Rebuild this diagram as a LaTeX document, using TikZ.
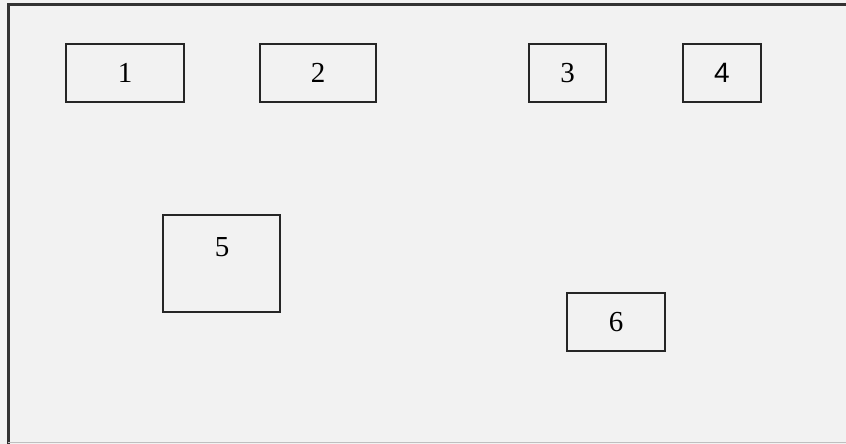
\documentclass[tikz,border=0pt]{standalone}
\usepackage{fontspec}
\setmainfont{Liberation Serif}
\newfontfamily\arialfont{Liberation Sans}
\begin{document}
\begin{tikzpicture}[x=1pt,y=-1pt,
  box/.style={draw=black!85,line width=2pt,fill=none,inner sep=0pt,font=\fontsize{29}{29}\selectfont},
]
\useasboundingbox (0,0) rectangle (846,444);
\fill[black!5] (0,0) rectangle (846,444);
\draw[black!80,line width=3pt] (849,5) -- (8,5) -- (8,449);
\draw[black!25,line width=1pt] (8,442) -- (849,442);
\node[box,minimum width=118pt,minimum height=58pt] (b1) at (125,73) {1};
\node[box,minimum width=116pt,minimum height=58pt] (b2) at (318,73) {2};
\node[box,minimum width=77pt,minimum height=58pt] (b3) at (567.5,73) {3};
\node[box,minimum width=78pt,minimum height=58pt,font=\arialfont\fontsize{28}{28}\selectfont] (b4) at (722,73) {4};
\node[box,minimum width=117pt,minimum height=97pt] (b5) at (221.5,263.5) {};
\node[font=\fontsize{29}{29}\selectfont,inner sep=0pt] (t5) at (222,247) {5};
\node[box,minimum width=98pt,minimum height=58pt] (b6) at (616,322) {6};
\end{tikzpicture}
\end{document}
